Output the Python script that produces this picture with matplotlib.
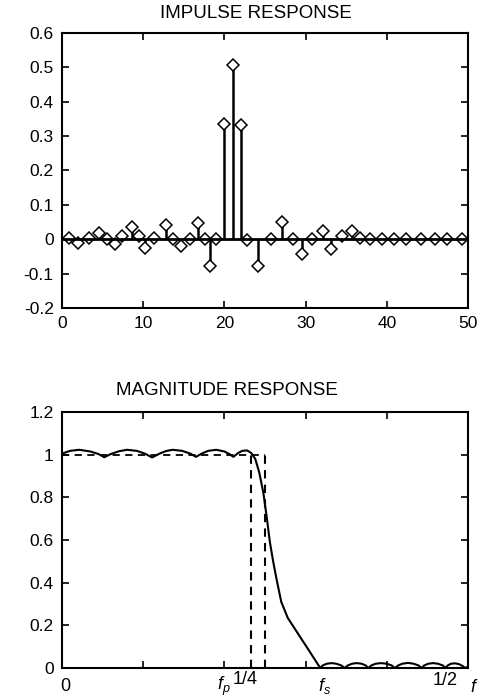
import matplotlib
matplotlib.use("Agg")
import matplotlib.pyplot as plt
import matplotlib.transforms as mtransforms

# impulse response, sample positions and values
N_POS = [0.8, 2.0, 3.3, 4.5, 5.5, 6.5, 7.4, 8.6, 9.5, 10.2, 11.3, 12.8, 13.7,
         14.7, 15.8, 16.7, 17.6, 18.2, 19.0, 20.0, 21.0, 22.1, 22.8, 24.1,
         25.7, 27.1, 28.4, 29.6, 30.8, 32.2, 33.1, 34.5, 35.7, 36.7, 37.9,
         39.4, 40.9, 42.4, 44.2, 45.9, 47.4, 49.2]
H_VAL = [0.003, -0.012, 0.003, 0.017, 0.0, -0.015, 0.008, 0.037, 0.008,
         -0.026, 0.003, 0.042, 0.0, -0.021, 0.0, 0.048, 0.0, -0.077, 0.002,
         0.335, 0.508, 0.332, -0.002, -0.079, 0.0, 0.051, 0.0, -0.043, 0.0,
         0.024, -0.027, 0.010, 0.024, 0.005, 0.0, 0.0, 0.0, 0.0, 0.0, 0.0,
         0.0, 0.0]
IMP_XTICKS = [0, 10, 20, 30, 40, 50]
IMP_YTICKS = [-0.2, -0.1, 0, 0.1, 0.2, 0.3, 0.4, 0.5, 0.6]
IMP_YLABELS = ["-0.2", "-0.1", "0", "0.1", "0.2", "0.3", "0.4", "0.5", "0.6"]

# magnitude response
F_MAG = [0.0, 0.010, 0.021, 0.035, 0.045, 0.052, 0.060, 0.070, 0.080, 0.092,
         0.102, 0.111, 0.120, 0.128, 0.136, 0.148, 0.158, 0.165, 0.172, 0.180,
         0.190, 0.200, 0.206, 0.211, 0.217, 0.222, 0.228, 0.233, 0.238, 0.243,
         0.248, 0.252, 0.256, 0.260, 0.264, 0.270, 0.278, 0.293, 0.305, 0.318,
         0.321, 0.326, 0.332, 0.338, 0.344, 0.348, 0.352, 0.357, 0.363, 0.369,
         0.374, 0.377, 0.381, 0.386, 0.393, 0.400, 0.406, 0.410, 0.414, 0.419,
         0.426, 0.433, 0.439, 0.443, 0.446, 0.451, 0.457, 0.463, 0.469, 0.472,
         0.475, 0.479, 0.484, 0.489, 0.494, 0.496, 0.500]
MAG = [1.005, 1.018, 1.023, 1.015, 1.003, 0.988, 1.003, 1.016, 1.023, 1.018,
       1.005, 0.987, 1.005, 1.017, 1.023, 1.018, 1.005, 0.990, 1.005, 1.018,
       1.023, 1.015, 1.003, 0.990, 1.008, 1.018, 1.020, 1.008, 0.980, 0.915,
       0.820, 0.710, 0.590, 0.500, 0.420, 0.310, 0.235, 0.147, 0.077, 0.0,
       0.012, 0.020, 0.023, 0.020, 0.012, 0.0, 0.012, 0.020, 0.023, 0.020,
       0.012, 0.0, 0.012, 0.020, 0.023, 0.020, 0.012, 0.0, 0.012, 0.020,
       0.024, 0.020, 0.012, 0.0, 0.012, 0.020, 0.023, 0.020, 0.012, 0.0,
       0.012, 0.020, 0.022, 0.018, 0.008, 0.0, 0.006]

FP = 0.233
F_QUARTER = 0.25
MAG_YTICKS = [0, 0.2, 0.4, 0.6, 0.8, 1.0, 1.2]
MAG_YLABELS = ["0", "0.2", "0.4", "0.6", "0.8", "1", "1.2"]
MAG_XTICKS = [0, 0.1, 0.2, 0.3, 0.4, 0.5]
# special frequency labels: (text, position, vertical offset in axes units)
F_LABELS = [("0", 0.004, -0.072),
            (r"$f_p$", 0.199, -0.072),
            ("1/4", 0.225, -0.045),
            (r"$f_s$", 0.323, -0.072),
            ("1/2", 0.472, -0.047),
            (r"$f$", 0.508, -0.078)]

plt.rcParams.update({
    "font.family": ["Liberation Sans", "DejaVu Sans"],
    "font.size": 12.5,
    "mathtext.fontset": "custom",
    "mathtext.it": "Liberation Sans:italic",
    "mathtext.rm": "Liberation Sans",
    "axes.unicode_minus": False,
    "axes.linewidth": 1.5,
})

fig = plt.figure(figsize=(4.83, 7.0), dpi=100)
fig.patch.set_facecolor("white")

# ── impulse response ──────────────────────────────────────────────
ax1 = fig.add_axes([0.1284, 0.56, 0.8406, 0.3929])
ax1.vlines(N_POS, 0, H_VAL, color="black", linewidth=1.8, zorder=1)
ax1.plot(N_POS, H_VAL, linestyle="none", marker="D", markersize=6.2,
         markerfacecolor="white", markeredgecolor="black",
         markeredgewidth=1.1, zorder=2)
ax1.axhline(0, color="black", linewidth=2.0, zorder=3)
ax1.set_xlim(0, 50)
ax1.set_ylim(-0.2, 0.6)
ax1.set_xticks(IMP_XTICKS)
ax1.set_yticks(IMP_YTICKS)
ax1.set_yticklabels(IMP_YLABELS)
ax1.tick_params(direction="in", length=5, width=1.2, top=True, right=True,
                labelsize=12.5, pad=6)
ax1.text(0.478, 1.04, "IMPULSE RESPONSE", transform=ax1.transAxes,
         ha="center", va="bottom", fontsize=13.5)

# ── magnitude response ────────────────────────────────────────────
ax2 = fig.add_axes([0.1284, 0.0457, 0.8406, 0.3657])
ax2.plot(F_MAG, MAG, color="black", linewidth=1.5)
ax2.plot([0, F_QUARTER], [1, 1], color="black", linewidth=1.3,
         linestyle=(0, (4, 3)))
ax2.plot([FP, FP], [0, 1], color="black", linewidth=1.5,
         linestyle=(0, (4, 3)))
ax2.plot([F_QUARTER, F_QUARTER], [0, 1], color="black", linewidth=1.5,
         linestyle=(0, (4, 3)))
ax2.set_xlim(0, 0.5)
ax2.set_ylim(0, 1.2)
ax2.set_xticks(MAG_XTICKS)
ax2.set_xticklabels([""] * len(MAG_XTICKS))
ax2.set_yticks(MAG_YTICKS)
ax2.set_yticklabels(MAG_YLABELS)
ax2.tick_params(direction="in", length=5, width=1.2, top=True, right=True,
                labelsize=12.5, pad=6)
ax2.text(0.406, 1.05, "MAGNITUDE RESPONSE", transform=ax2.transAxes,
         ha="center", va="bottom", fontsize=13.5)

trans = mtransforms.blended_transform_factory(ax2.transData, ax2.transAxes)
for lbl, xpos, ypos in F_LABELS:
    ax2.text(xpos, ypos, lbl, transform=trans, ha="center", va="center",
             fontsize=13, clip_on=False)

fig.savefig("out.png", dpi=100, facecolor="white")
